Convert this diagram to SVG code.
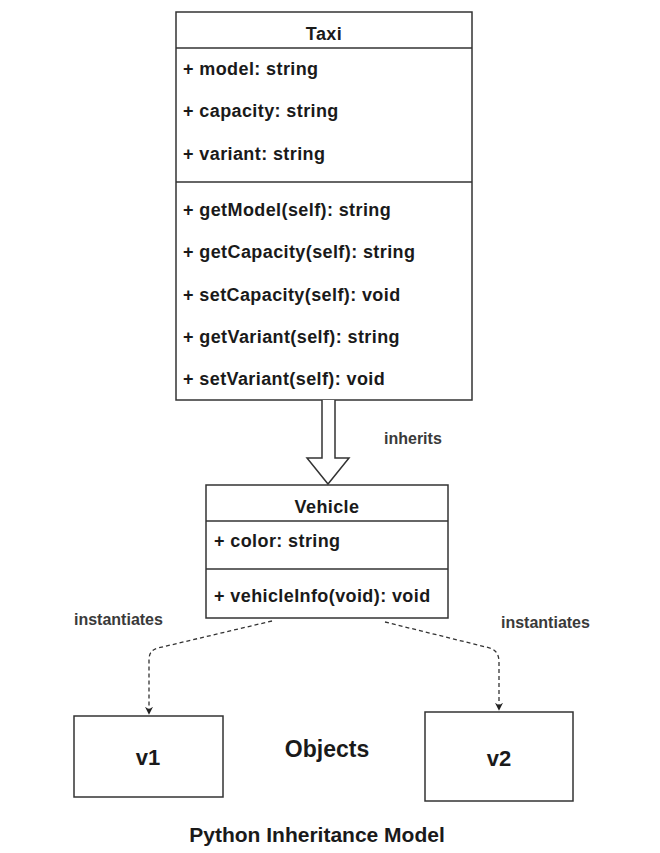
<svg xmlns="http://www.w3.org/2000/svg" width="660" height="853" viewBox="0 0 660 853">
<defs>
<style>
.box{fill:#fff;stroke:#333;stroke-width:1.5}
.sep{stroke:#333;stroke-width:1.5}
.t{font-family:"Liberation Sans",Arial,sans-serif;font-size:18px;font-weight:bold;fill:#1a1a1a;letter-spacing:0.4px}
.c{text-anchor:middle}
.lbl{font-family:"Liberation Sans",Arial,sans-serif;font-size:16px;font-weight:bold;fill:#3a3a3a}
.big{font-family:"Liberation Sans",Arial,sans-serif;font-size:22px;font-weight:bold;fill:#1a1a1a;text-anchor:middle}
.dash{fill:none;stroke:#333;stroke-width:1.3;stroke-dasharray:4 3}
</style>
<marker id="ah" viewBox="0 0 10 10" refX="9" refY="5" markerWidth="8" markerHeight="8" orient="auto" markerUnits="userSpaceOnUse">
<path d="M0,0 L10,5 L0,10 L3,5 Z" fill="#222"/>
</marker>
</defs>
<rect width="660" height="853" fill="#fff"/>
<g id="taxi">
<rect class="box" x="176" y="12" width="296" height="388"/>
<line class="sep" x1="176" y1="48" x2="472" y2="48"/>
<line class="sep" x1="176" y1="182" x2="472" y2="182"/>
<text class="t c" x="324" y="40">Taxi</text>
<text class="t" x="183" y="75">+ model: string</text>
<text class="t" x="183" y="117">+ capacity: string</text>
<text class="t" x="183" y="160">+ variant: string</text>
<text class="t" x="183" y="216">+ getModel(self): string</text>
<text class="t" x="183" y="258">+ getCapacity(self): string</text>
<text class="t" x="183" y="301">+ setCapacity(self): void</text>
<text class="t" x="183" y="343">+ getVariant(self): string</text>
<text class="t" x="183" y="385">+ setVariant(self): void</text>
</g>
<g id="vehicle">
<rect class="box" x="206" y="485" width="242" height="133"/>
<line class="sep" x1="206" y1="521" x2="448" y2="521"/>
<line class="sep" x1="206" y1="569" x2="448" y2="569"/>
<text class="t c" x="327" y="513">Vehicle</text>
<text class="t" x="214" y="547">+ color: string</text>
<text class="t" x="214" y="602">+ vehicleInfo(void): void</text>
</g>
<g id="v1">
<rect class="box" x="74" y="716" width="149" height="81"/>
<text class="big" x="148" y="765">v1</text>
</g>
<g id="v2">
<rect class="box" x="425" y="712" width="148" height="89"/>
<text class="big" x="499" y="766">v2</text>
</g>
<g id="connectors">
<path d="M322,400 L322,458 L307,458 L328,484 L349,458 L335,458 L335,400" fill="#fff" stroke="#333" stroke-width="1.5" stroke-linejoin="miter"/>
<path class="dash" d="M272,621 L158,648 Q149,650 149,660 L149,714" marker-end="url(#ah)"/>
<path class="dash" d="M385,622 L490,648 Q499,651 499,662 L499,710" marker-end="url(#ah)"/>
</g>
<g id="labels">
<text class="lbl" x="384" y="444">inherits</text>
<text class="lbl" x="74" y="625">instantiates</text>
<text class="lbl" x="501" y="628">instantiates</text>
<text class="big" x="327" y="757" style="font-size:23px">Objects</text>
<text class="big" x="317" y="842" style="font-size:21px">Python Inheritance Model</text>
</g>
</svg>
